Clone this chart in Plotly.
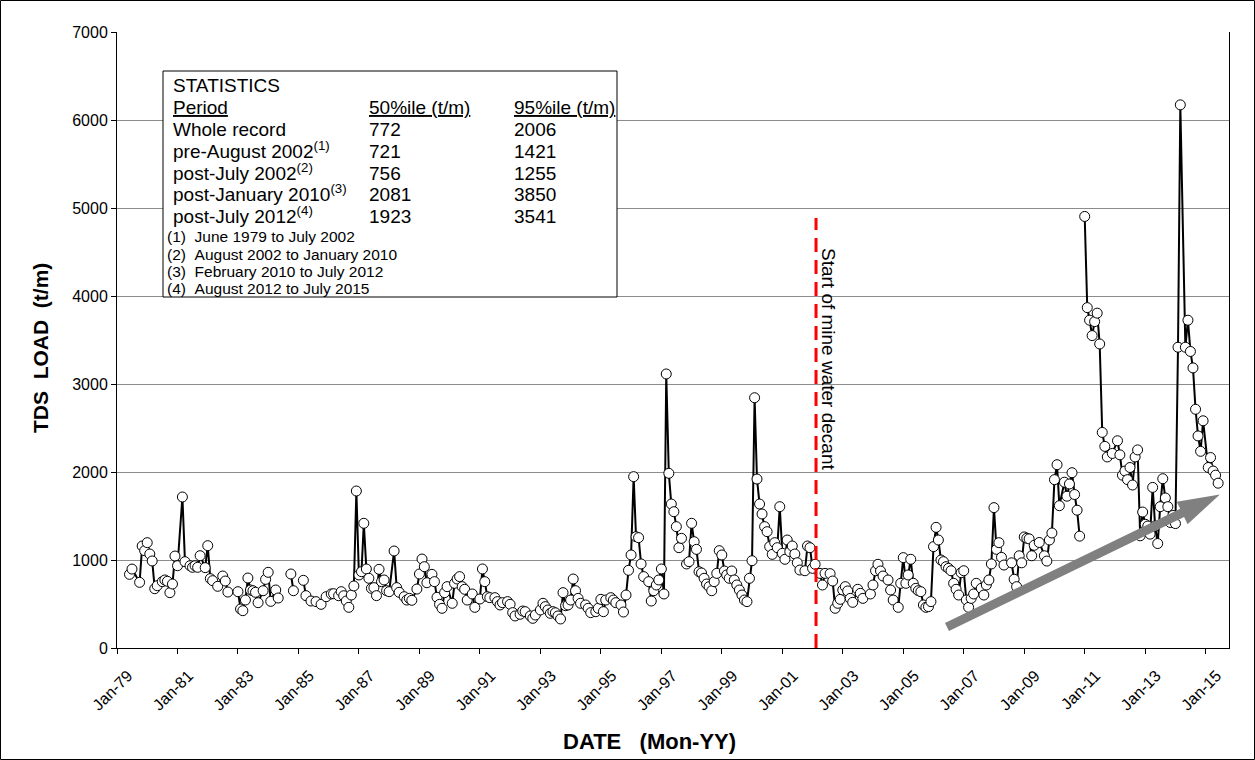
import math
from datetime import datetime

import plotly.graph_objects as go

FONT = "Arial, 'Liberation Sans', sans-serif"

# Monthly TDS load record (t/m); None marks a break in the record
sample_month = [
    "1979-06", "1979-07", "1979-10", "1979-11", "1979-12",
    "1980-01", "1980-02", "1980-03", "1980-04", "1980-05", "1980-07", "1980-08", "1980-09", "1980-10", "1980-11", "1980-12",
    "1981-01", "1981-03", "1981-04", "1981-06", "1981-07", "1981-08", "1981-09", "1981-10", "1981-12",
    "1982-01", "1982-02", "1982-03", "1982-05", "1982-07", "1982-08", "1982-09", "1982-11",
    "1983-01", "1983-02", "1983-03", "1983-04", "1983-05", "1983-06", "1983-07", "1983-08", "1983-09", "1983-11", "1983-12",
    "1984-01", "1984-02", "1984-04", "1984-05", "1984-08", "1984-10", "1984-11",
    "1985-01", "1985-03", "1985-04", "1985-06", "1985-08", "1985-10", "1985-12",
    "1986-02", "1986-03", "1986-05", "1986-06", "1986-07", "1986-08", "1986-09", "1986-10", "1986-11", "1986-12",
    "1987-01", "1987-02", "1987-03", "1987-04", "1987-05", "1987-06", "1987-07", "1987-08", "1987-09", "1987-10", "1987-11", "1987-12",
    "1988-01", "1988-03", "1988-04", "1988-05", "1988-07", "1988-08", "1988-09", "1988-10", "1988-12",
    "1989-01", "1989-02", "1989-03", "1989-04", "1989-06", "1989-07", "1989-08", "1989-09", "1989-10", "1989-11", "1989-12",
    "1990-02", "1990-03", "1990-04", "1990-05", "1990-06", "1990-07", "1990-08", "1990-10", "1990-11",
    "1991-01", "1991-02", "1991-03", "1991-04", "1991-05", "1991-07", "1991-08", "1991-09", "1991-10", "1991-12",
    "1992-01", "1992-02", "1992-03", "1992-05", "1992-06", "1992-07", "1992-09", "1992-10", "1992-11",
    "1993-01", "1993-02", "1993-03", "1993-04", "1993-05", "1993-06", "1993-07", "1993-08", "1993-09", "1993-10", "1993-11", "1993-12",
    "1994-01", "1994-02", "1994-03", "1994-04", "1994-05", "1994-07", "1994-08", "1994-09", "1994-11", "1994-12",
    "1995-01", "1995-02", "1995-03", "1995-05", "1995-06", "1995-07", "1995-09", "1995-10", "1995-11", "1995-12",
    "1996-01", "1996-02", "1996-03", "1996-04", "1996-05", "1996-06", "1996-08", "1996-09", "1996-10", "1996-11", "1996-12",
    "1997-01", "1997-02", "1997-03", "1997-04", "1997-05", "1997-06", "1997-07", "1997-08", "1997-09", "1997-10", "1997-11", "1997-12",
    "1998-01", "1998-02", "1998-03", "1998-04", "1998-05", "1998-06", "1998-07", "1998-08", "1998-09", "1998-10", "1998-11", "1998-12",
    "1999-01", "1999-02", "1999-03", "1999-04", "1999-05", "1999-06", "1999-07", "1999-08", "1999-09", "1999-10", "1999-11", "1999-12",
    "2000-01", "2000-02", "2000-03", "2000-04", "2000-05", "2000-06", "2000-07", "2000-08", "2000-09", "2000-10", "2000-11", "2000-12",
    "2001-01", "2001-02", "2001-03", "2001-04", "2001-05", "2001-06", "2001-07", "2001-08", "2001-10", "2001-11", "2001-12",
    "2002-01", "2002-02", "2002-04", "2002-05", "2002-06", "2002-08", "2002-09", "2002-10", "2002-11", "2002-12",
    "2003-01", "2003-02", "2003-03", "2003-04", "2003-05", "2003-07", "2003-08", "2003-09", "2003-12",
    "2004-01", "2004-02", "2004-03", "2004-04", "2004-05", "2004-07", "2004-08", "2004-09", "2004-11", "2004-12",
    "2005-01", "2005-02", "2005-03", "2005-04", "2005-05", "2005-06", "2005-07", "2005-08", "2005-09", "2005-10", "2005-11", "2005-12",
    "2006-01", "2006-02", "2006-03", "2006-04", "2006-05", "2006-06", "2006-07", "2006-08", "2006-09", "2006-10", "2006-11", "2006-12",
    "2007-01", "2007-02", "2007-03", "2007-04", "2007-05", "2007-06", "2007-08", "2007-09", "2007-10", "2007-11", "2007-12",
    "2008-01", "2008-02", "2008-03", "2008-04", "2008-05", "2008-08", "2008-09", "2008-10", "2008-11", "2008-12",
    "2009-01", "2009-02", "2009-03", "2009-04", "2009-05", "2009-07", "2009-09", "2009-10", "2009-11", "2009-12",
    "2010-01", "2010-02", "2010-03", "2010-05", "2010-06", "2010-07", "2010-08", "2010-09", "2010-10", "2010-11", "2010-12",
    "2011-01", "2011-02", "2011-03", "2011-04", "2011-05", "2011-06", "2011-07", "2011-08", "2011-09", "2011-10", "2011-12",
    "2012-02", "2012-03", "2012-04", "2012-05", "2012-06", "2012-07", "2012-08", "2012-09", "2012-10", "2012-11", "2012-12",
    "2013-01", "2013-02", "2013-03", "2013-04", "2013-05", "2013-06", "2013-07", "2013-08", "2013-09", "2013-10", "2013-11", "2013-12",
    "2014-01", "2014-02", "2014-03", "2014-05", "2014-06", "2014-07", "2014-08", "2014-09", "2014-10", "2014-11", "2014-12",
    "2015-02", "2015-03", "2015-04", "2015-05", "2015-06",
]

tds_load = [
    837, 897, 746, 1159, 1106,
    1197, 1068, 989, 674, 708, 754, 773, 758, 629, 727, 1045,
    935, 1716, 981, 935, 917, 935, 917, 1049, 913,
    1163, 788, 765, 701, 818, 761, 636, None,
    640, 443, 424, 545, 795, 659, 651, 633, 515, 651, 780,
    860, 530, 659, 568, None, 841, 651,
    None, 769, 595, 534, 527, 496, 583,
    614, 617, 594, 640, 594, 534, 462, 602, 705, 1784,
    830, 867, 1417, 898, 792, 678, 686, 595, 894, 754, 773, 651,
    640, 1102, 686, 633, 583, 545, 564, 542, 670,
    841, 1011, 924, 742, 837, 754, 576, 496, 451, 629, 697,
    508, 735, 784, 811, 697, 667, 545, 614, 462,
    557, 898, 754, 583, 572, 572, 527, 489, 515, 527,
    496, 402, 364, 383, 420, 413, 364, 337, 375,
    432, 508, 470, 432, 394, 413, 400, 364, 330, 629, 481, 489,
    545, 784, 651, 564, 508, 489, 451, 402, 413, 451,
    553, 413, 545, 572, 545, 515, 489, 409, 602, 883,
    1057, 1947, 1265, 1254, 955, 811, 754, 534, 651, 716, 773,
    898, 614, 3114, 1985, 1636, 1549, 1379, 1140, 1246, None, 955, 981,
    1417, 1208, 1121, 867, 852, 792, 727, 697, 651, 754, 848, 1106,
    1057, 875, 830, 792, 875, 773, 716, 659, 602, 545, 527, 792,
    992, 2844, 1920, 1636, 1523, 1379, 1322, 1152, 1064, 1197, 1140, 1606,
    1076, 1008, 1227, 1095, 1159, 1068, 969, 886, 878, 1159, 1140,
    905, 951, 848, 716, 848, 845, 761, 451, 508, 553,
    659, 697, 648, 564, 519, 667, 621, 564, 614,
    716, 878, 951, 875, 818, 773, 659, 545, 462, 735,
    1027, 735, 830, 1008, 735, 678, 651, 640, 489, 462, 470, 527,
    1152, 1371, 1227, 1000, 981, 924, 905, 878, 735, 667, 602, 856,
    878, 545, 462, 564, 614, 735, 678, 602, 716, 773, 955,
    1595, 1121, 1197, 1030, 943, 968, 781, 697, 1048, 968,
    1262, 1247, 1240, 1048, 1167, 1199, 1048, 988, 1227, 1307,
    1913, 2083, 1617, 1884, 1725, 1864, 1992, 1744, 1566, 1271, None,
    4904, 3868, 3725, 3550, 3709, 3805, 3455, 2450, 2291, 2171, 2211,
    2355, 2195, 1964, 2011, 1913, 2051, 1852, 2171, 2251, 1275, 1545,
    1406, 1386, 1294, 1825, 1386, 1187, 1606, 1924, 1705, 1606, 1426, 1506,
    1414, 3418, 6172, 3418, 3725, 3370, 3183, 2713, 2410, 2235, 2582,
    2051, 2164, 2011, 1964, 1873,
]

# Axis set-up
x_range = ["1979-01-01", "2015-10-10"]
y_range = [0, 7000]
tick_start = "1979-01-01"

# Start of decant marker and trend arrow
decant_date = "2002-02-12"
decant_top = 4886
decant_label = "Start of mine water decant"
trend_start = ("2006-06-13", 239)
trend_end = ("2015-06-22", 1744)

# Statistics table
stat_headers = ["Period", "50%ile (t/m)", "95%ile (t/m)"]
stat_periods = ["Whole record", "pre-August 2002<sup>(1)</sup>", "post-July 2002<sup>(2)</sup>",
                "post-January 2010<sup>(3)</sup>", "post-July 2012<sup>(4)</sup>"]
stat_p50 = [772, 721, 756, 2081, 1923]
stat_p95 = [2006, 1421, 1255, 3850, 3541]
stat_notes = ["(1)\u00a0\u00a0June 1979 to July 2002",
              "(2)\u00a0\u00a0August 2002 to January 2010",
              "(3)\u00a0\u00a0February 2010 to July 2012",
              "(4)\u00a0\u00a0August 2012 to July 2015"]

# Page geometry (pixels) used to place the frame, table, titles and arrow
W, H = 1255, 760
ML, MR, MT, MB = 117, 26, 32, 112
PW, PH = W - ML - MR, H - MT - MB


def px(x):
    return (x - ML) / PW


def py(y):
    return (H - MB - y) / PH


def date_to_px(s):
    d0, d1 = (datetime.fromisoformat(v) for v in x_range)
    return ML + (datetime.fromisoformat(s) - d0) / (d1 - d0) * PW


def value_to_py(v):
    return MT + (1 - (v - y_range[0]) / (y_range[1] - y_range[0])) * PH


def arrow_path(tail, tip, shaft=4.5, head_len=42, head_half=12.5):
    """Filled block-arrow outline in pixels relative to the tip (y up)."""
    tx, ty = date_to_px(tail[0]), value_to_py(tail[1])
    hx, hy = date_to_px(tip[0]), value_to_py(tip[1])
    dx, dy = hx - tx, -(hy - ty)
    length = math.hypot(dx, dy)
    ux, uy = dx / length, dy / length
    nx, ny = -uy, ux
    bx, by = -ux * head_len, -uy * head_len
    ex, ey = -ux * length, -uy * length
    pts = [(0, 0),
           (bx + nx * head_half, by + ny * head_half),
           (bx + nx * shaft, by + ny * shaft),
           (ex + nx * shaft, ey + ny * shaft),
           (ex - nx * shaft, ey - ny * shaft),
           (bx - nx * shaft, by - ny * shaft),
           (bx - nx * head_half, by - ny * head_half)]
    return "M" + " L".join(f"{x:.1f},{y:.1f}" for x, y in pts) + " Z"


fig = go.Figure()
fig.add_trace(go.Scatter(
    x=sample_month, y=tds_load, mode="lines+markers", connectgaps=False,
    line=dict(color="black", width=2),
    marker=dict(symbol="circle", size=10, color="white", line=dict(color="black", width=1)),
    showlegend=False, hoverinfo="x+y",
))

shapes = [
    # outer chart frame
    dict(type="rect", xref="paper", yref="paper", x0=px(0.5), x1=px(W - 0.5), y0=py(H - 0.5), y1=py(0.5),
         line=dict(color="black", width=1), layer="below"),
    # statistics box
    dict(type="rect", xref="paper", yref="paper", x0=px(163), x1=px(617), y0=py(297), y1=py(71),
         line=dict(color="black", width=1), fillcolor="white", layer="above"),
    # decant marker
    dict(type="line", xref="x", yref="y", x0=decant_date, x1=decant_date, y0=0, y1=decant_top,
         line=dict(color="#ff0000", width=3, dash="14px,8px")),
    # rising-trend arrow
    dict(type="path", xref="x", yref="y", xsizemode="pixel", ysizemode="pixel",
         xanchor=trend_end[0], yanchor=trend_end[1], path=arrow_path(trend_start, trend_end),
         fillcolor="#808080", line=dict(width=0), layer="above"),
]

ann = []
txt = dict(xref="paper", yref="paper", showarrow=False, xanchor="left", yanchor="bottom",
           borderpad=0, font=dict(family=FONT, size=19, color="black"))
ROW_DROP = 11.5  # centre of a text row to the bottom of its box
col_x = [px(172), px(368), px(513)]
ann.append(dict(txt, x=col_x[0], y=py(86 + ROW_DROP), text="STATISTICS"))
for cx, h in zip(col_x, stat_headers):
    ann.append(dict(txt, x=cx, y=py(107 + ROW_DROP), text=f"<u>{h}</u>"))
for i, (p, a, b) in enumerate(zip(stat_periods, stat_p50, stat_p95)):
    ry = py(129 + 22 * i + ROW_DROP)
    ann.append(dict(txt, x=col_x[0], y=ry, text=p))
    ann.append(dict(txt, x=col_x[1], y=ry, text=str(a)))
    ann.append(dict(txt, x=col_x[2], y=ry, text=str(b)))
for i, n in enumerate(stat_notes):
    ann.append(dict(txt, x=px(166), y=py(237 + 17.2 * i), yanchor="middle", text=n,
                    font=dict(family=FONT, size=15.5, color="black")))

# axis titles
ann.append(dict(xref="paper", yref="paper", x=px(40), y=py(348), xanchor="center", yanchor="middle",
                showarrow=False, textangle=-90,
                text="<b>TDS\u00a0\u00a0LOAD\u00a0\u00a0(t/m)</b>", font=dict(family=FONT, size=21, color="black")))
ann.append(dict(xref="paper", yref="paper", x=px(649), y=py(741), xanchor="center", yanchor="middle",
                showarrow=False,
                text="<b>DATE\u00a0\u00a0\u00a0(Mon-YY)</b>", font=dict(family=FONT, size=22, color="black")))

# decant label
ann.append(dict(xref="x", yref="y", x=decant_date, y=3284, xshift=13, xanchor="center", yanchor="middle",
                showarrow=False, textangle=90,
                text=decant_label, font=dict(family=FONT, size=19, color="black")))

fig.update_layout(
    width=W, height=H, margin=dict(l=ML, r=MR, t=MT, b=MB),
    paper_bgcolor="white", plot_bgcolor="white",
    font=dict(family=FONT, color="black"),
    shapes=shapes, annotations=ann, showlegend=False,
    xaxis=dict(type="date", range=x_range, tick0=tick_start, dtick="M24", tickformat="%b-%y",
               tickangle=-45, ticks="outside", ticklen=5, tickcolor="black",
               ticklabelshift=11, ticklabelstandoff=6,
               showline=True, linecolor="black", linewidth=1, showgrid=False, zeroline=False,
               tickfont=dict(family=FONT, size=16, color="black")),
    yaxis=dict(range=y_range, dtick=1000, ticks="outside", ticklen=5, tickcolor="black",
               showline=True, linecolor="black", linewidth=1, mirror=True,
               showgrid=True, gridcolor="#8c8c8c", gridwidth=1, zeroline=False,
               tickfont=dict(family=FONT, size=16, color="black")),
)

fig.write_html("out.html")
